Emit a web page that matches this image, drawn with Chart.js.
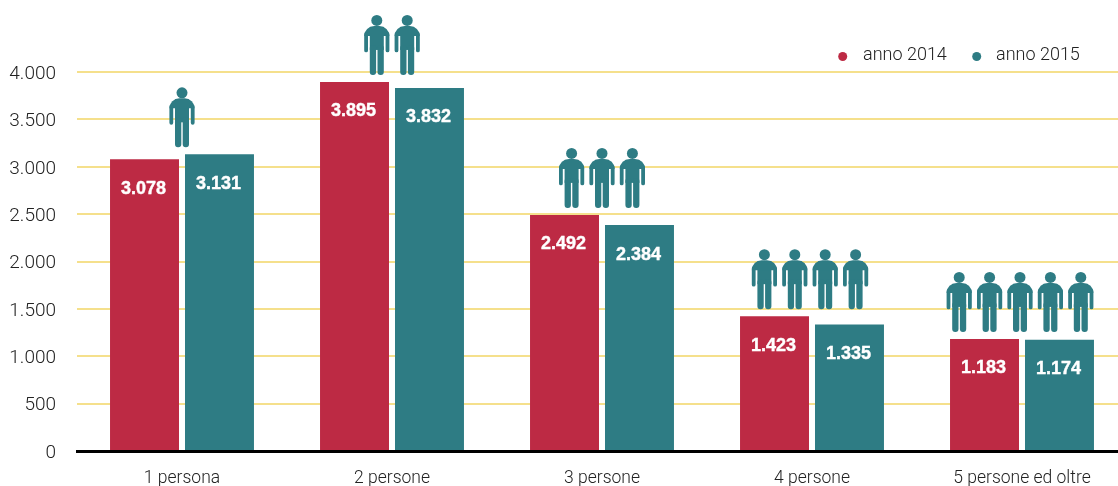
<!DOCTYPE html>
<html lang="it">
<head>
<meta charset="utf-8">
<title>Famiglie per numero di componenti</title>
<script src="https://cdn.jsdelivr.net/npm/chart.js@4/dist/chart.umd.min.js"></script>
<style>
  html, body { margin: 0; padding: 0; background: #fff; overflow: hidden; width: 1118px; height: 486px; }
  canvas { display: block; }
</style>
</head>
<body>
<canvas id="chart" width="1127" height="486"></canvas>
<script>
const categories = ["1 persona", "2 persone", "3 persone", "4 persone", "5 persone ed oltre"];
const values2014 = [3078, 3895, 2492, 1423, 1183];
const values2015 = [3131, 3832, 2384, 1335, 1174];
const personCounts = [1, 2, 3, 4, 5];
const yTicks = [0, 500, 1000, 1500, 2000, 2500, 3000, 3500, 4000];

const RED = "#bd2a44";
const TEAL = "#2e7c84";
const TEXT = "#222";
const FONT = "Roboto, 'Liberation Sans', sans-serif";
const BOLD_FONT = "'Liberation Sans', Arial, sans-serif";

// 3845 -> 3.845
const fmt = v => String(v).replace(/\B(?=(\d{3})+$)/g, ".");

function drawPerson(ctx, cx, feetY) {
  const t = feetY - 60;
  ctx.beginPath();
  ctx.arc(cx, t + 5.5, 5.5, 0, Math.PI * 2);
  ctx.fill();
  // torso and shoulders
  ctx.fillRect(cx - 7, t + 12, 14, 23);
  ctx.beginPath();
  ctx.roundRect(cx - 12.6, t + 11, 25.2, 10, [10, 10, 0, 0]);
  ctx.fill();
  // legs
  ctx.beginPath();
  ctx.roundRect(cx - 7, t + 30, 6.3, 30, 3);
  ctx.roundRect(cx + 0.7, t + 30, 6.3, 30, 3);
  ctx.fill();
  // arms
  ctx.lineWidth = 3.8;
  ctx.lineCap = "round";
  ctx.beginPath();
  ctx.moveTo(cx - 10.7, t + 35.5);
  ctx.lineTo(cx - 10.7, t + 19);
  ctx.moveTo(cx + 10.7, t + 19);
  ctx.lineTo(cx + 10.7, t + 35.5);
  ctx.stroke();
}

const extras = {
  id: "extras",
  afterDatasetsDraw(chart) {
    const { ctx } = chart;
    const y = chart.scales.y;
    const x = chart.scales.x;

    // value labels inside the bars
    ctx.save();
    ctx.fillStyle = "#fff";
    ctx.strokeStyle = "#fff";
    ctx.lineWidth = 0.4;
    ctx.font = "bold 18px " + BOLD_FONT;
    ctx.textAlign = "center";
    ctx.textBaseline = "middle";
    chart.data.datasets.forEach((ds, d) => {
      chart.getDatasetMeta(d).data.forEach((bar, i) => {
        const label = fmt(ds.data[i]);
        ctx.fillText(label, bar.x - 1, bar.y + 29.5);
        ctx.strokeText(label, bar.x - 1, bar.y + 29.5);
      });
    });
    ctx.restore();

    // little people above each group
    ctx.save();
    ctx.fillStyle = TEAL;
    ctx.strokeStyle = TEAL;
    personCounts.forEach((n, i) => {
      const top = y.getPixelForValue(Math.max(values2014[i], values2015[i]));
      const mid = x.getPixelForValue(i) - (i > 2 ? 2 : 0);
      for (let k = 0; k < n; k++) {
        drawPerson(ctx, mid + (k - (n - 1) / 2) * 30.4, top - 7);
      }
    });
    ctx.restore();

    // legend
    ctx.save();
    ctx.font = "300 18px " + FONT;
    ctx.textBaseline = "middle";
    [[842.7, 863], [976.7, 996]].forEach((p, d) => {
      const ds = chart.data.datasets[d];
      ctx.fillStyle = ds.backgroundColor;
      ctx.beginPath();
      ctx.arc(p[0], 56.5, 4.5, 0, Math.PI * 2);
      ctx.fill();
      ctx.fillStyle = TEXT;
      ctx.fillText(ds.label, p[1], 55);
    });
    ctx.restore();
  }
};

new Chart(document.getElementById("chart"), {
  type: "bar",
  plugins: [extras],
  data: {
    labels: categories,
    datasets: [
      { label: "anno 2014", data: values2014, backgroundColor: RED },
      { label: "anno 2015", data: values2015, backgroundColor: TEAL }
    ]
  },
  options: {
    responsive: false,
    animation: false,
    layout: { padding: { top: 72, right: 0, bottom: 0, left: 0 } },
    categoryPercentage: 0.714,
    barPercentage: 0.92,
    plugins: { legend: { display: false }, tooltip: { enabled: false } },
    scales: {
      x: {
        afterFit: s => { s.height = 35; },
        grid: { display: false, drawTicks: false },
        border: { color: "#000", width: 3, z: 2 },
        ticks: { color: TEXT, padding: 17, maxRotation: 0, font: { family: FONT, size: 17.5, weight: 300 } }
      },
      y: {
        min: 0,
        max: 4000,
        afterFit: s => { s.width = 77; },
        afterBuildTicks: s => { s.ticks = yTicks.map(value => ({ value })); },
        grid: { color: "#f5e08c", lineWidth: 2, drawTicks: false },
        border: { display: false },
        ticks: { color: TEXT, padding: 21, labelOffset: 2, callback: v => fmt(v), font: { family: FONT, size: 19, weight: 300 } }
      }
    }
  }
});
</script>
</body>
</html>
